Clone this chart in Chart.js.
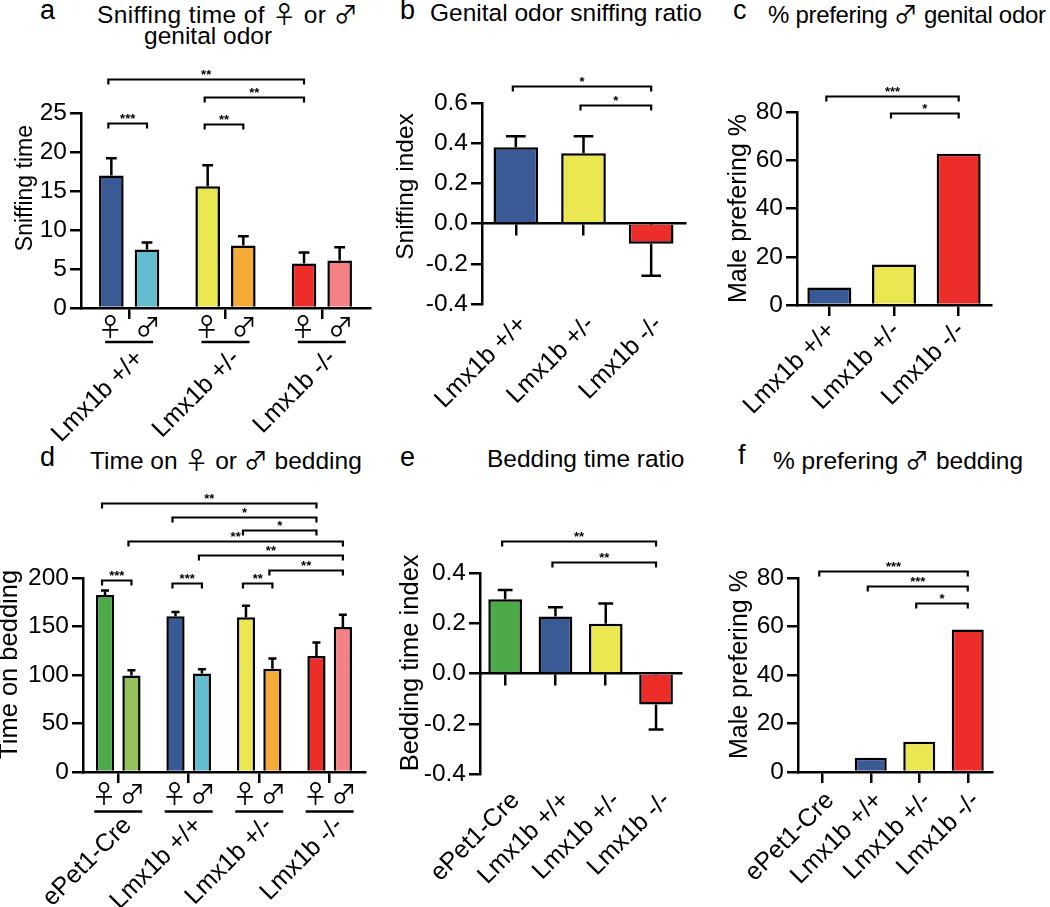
<!DOCTYPE html>
<html>
<head>
<meta charset="utf-8">
<script src="https://cdn.jsdelivr.net/npm/chart.js@4.4.1/dist/chart.umd.min.js"></script>
<style>
body{margin:0;background:#fff;width:1050px;height:907px;position:relative;overflow:hidden;font-family:"Liberation Sans",Arial,sans-serif;color:#000}
canvas{position:absolute}
.let{position:absolute;font-size:27px;line-height:27px;white-space:nowrap}
.ttl{position:absolute;font-size:24.5px;line-height:24.5px;white-space:nowrap}
.sx{font-family:"Noto Sans CJK JP","DejaVu Sans",sans-serif;font-size:24px}
</style>
</head>
<body>
<div class="let" style="left:40px;top:-3px">a</div>
<div class="ttl" style="left:97px;top:1px;letter-spacing:0.4px">Sniffing time of <span class="sx">♀</span> or <span class="sx">♂</span></div>
<div class="ttl" style="left:144px;top:24px">genital odor</div>
<div class="let" style="left:400px;top:-3px">b</div>
<div class="ttl" style="left:430px;top:1px">Genital odor sniffing ratio</div>
<div class="let" style="left:733px;top:-3px">c</div>
<div class="ttl" style="left:768px;top:1px;font-size:24px;letter-spacing:-0.3px">% prefering <span class="sx">♂</span> genital odor</div>
<div class="let" style="left:40px;top:444px">d</div>
<div class="ttl" style="left:90px;top:447px">Time on <span class="sx">♀</span> or <span class="sx">♂</span> bedding</div>
<div class="let" style="left:400px;top:444px">e</div>
<div class="ttl" style="left:487px;top:447px">Bedding time ratio</div>
<div class="let" style="left:738px;top:442px">f</div>
<div class="ttl" style="left:773px;top:447px">% prefering <span class="sx">♂</span> bedding</div>

<canvas id="ca" width="372" height="400" style="left:0;top:55px"></canvas>
<canvas id="cb" width="310" height="400" style="left:380px;top:55px"></canvas>
<canvas id="cc" width="290" height="400" style="left:710px;top:55px"></canvas>
<canvas id="cd" width="380" height="427" style="left:0;top:480px"></canvas>
<canvas id="ce" width="300" height="427" style="left:390px;top:480px"></canvas>
<canvas id="cf" width="290" height="427" style="left:715px;top:480px"></canvas>

<script>
const FONT = "'Liberation Sans', Arial, sans-serif";
const SYMFONT = "'Noto Sans CJK JP', 'DejaVu Sans', sans-serif";
const BLUE = "#3a5a96", CYAN = "#63bdcf", YEL = "#ebe752", ORG = "#f4aa36";
const RED = "#ec2d2a", PINK = "#f48185", GRN = "#4caa48", LGRN = "#95c05a";

// categories
const lmxGroups = ["Lmx1b +/+", "Lmx1b +/-", "Lmx1b -/-"];
const beddingGroups = ["ePet1-Cre", "Lmx1b +/+", "Lmx1b +/-", "Lmx1b -/-"];

// a: sniffing time (female / male odor)
const sniffFemale = [17.0, 15.6, 5.7];
const sniffFemaleErr = [2.2, 2.7, 1.4];
const sniffMale = [7.5, 8.0, 6.1];
const sniffMaleErr = [0.9, 1.2, 1.7];
// b: sniffing index
const sniffIndex = [0.38, 0.35, -0.10];
const sniffIndexErr = [0.055, 0.085, 0.16];
// c: % preferring male genital odor
const malePrefOdor = [7.3, 16.8, 62.7];
// d: time on bedding
const beddingFemale = [182.5, 160.5, 159.5, 119.5];
const beddingFemaleErr = [4.5, 4.5, 12, 14];
const beddingMale = [99.5, 101.5, 106.5, 149.5];
const beddingMaleErr = [5.5, 4.5, 10.5, 12.5];
// e: bedding time index
const beddingIndex = [0.296, 0.227, 0.198, -0.123];
const beddingIndexErr = [0.036, 0.037, 0.081, 0.10];
// f: % preferring male bedding
const malePrefBedding = [0, 5.9, 12.5, 58.8];

// significance: [datasetFrom, indexFrom, datasetTo, indexTo, y value, stars]
const sigA = [[0,0,0,2,29.4,"**"],[0,1,0,2,27.05,"**"],[0,0,1,0,23.7,"***"],[0,1,1,1,23.6,"**"]];
const sigB = [[0,0,0,2,0.685,"*"],[0,1,0,2,0.59,"*"]];
const sigC = [[0,0,0,2,86.6,"***"],[0,1,0,2,79.6,"*"]];
const sigD = [[0,0,0,3,277.6,"**"],[0,1,0,3,262.8,"*"],[0,2,0,3,249.8,"*"],
              [1,0,1,3,238,"**"],[1,1,1,3,223.4,"**"],[1,2,1,3,208.6,"**"],
              [0,0,1,0,197.6,"***"],[0,1,1,1,194.5,"***"],[0,2,1,2,194.5,"**"]];
const sigE = [[0,0,0,3,0.528,"**"],[0,1,0,3,0.442,"**"]];
const sigF = [[0,0,0,3,82.7,"***"],[0,1,0,3,76.9,"***"],[0,2,0,3,69.7,"*"]];

Chart.defaults.font.family = FONT;
Chart.defaults.color = "#000";

const annot = {
  id: "annot",
  afterDatasetsDraw(chart, args, opts) {
    const ctx = chart.ctx, ys = chart.scales.y, xs = chart.scales.x, area = chart.chartArea;
    ctx.save();
    ctx.strokeStyle = "#000";
    ctx.fillStyle = "#000";
    // error bars (away from zero only)
    chart.data.datasets.forEach((ds, di) => {
      if (!ds.errors) return;
      chart.getDatasetMeta(di).data.forEach((bar, i) => {
        const v = ds.data[i], e = ds.errors[i];
        if (!e) return;
        const s = v < 0 ? -1 : 1;
        const yEnd = ys.getPixelForValue(v + s * e);
        const cap = bar.width * 0.22;
        ctx.lineWidth = 2.5;
        ctx.beginPath();
        ctx.moveTo(bar.x, bar.y);
        ctx.lineTo(bar.x, yEnd);
        ctx.moveTo(bar.x - cap, yEnd);
        ctx.lineTo(bar.x + cap, yEnd);
        ctx.stroke();
      });
    });
    // significance brackets
    (opts.brackets || []).forEach(([d1, i1, d2, i2, val, txt]) => {
      const x1 = chart.getDatasetMeta(d1).data[i1].x - 3;
      const x2 = chart.getDatasetMeta(d2).data[i2].x;
      const yy = Math.round(ys.getPixelForValue(val)) + 0.5;
      ctx.lineWidth = 2.2;
      ctx.beginPath();
      ctx.moveTo(x1, yy + 5); ctx.lineTo(x1, yy); ctx.lineTo(x2, yy); ctx.lineTo(x2, yy + 5);
      ctx.stroke();
      ctx.font = "bold 13px " + FONT;
      ctx.textAlign = "center";
      ctx.textBaseline = "alphabetic";
      ctx.fillText(txt, (x1 + x2) / 2, yy - 1);
    });
    // female / male symbols under grouped bars
    if (opts.sexRow) {
      const {symY, lineY, half} = opts.sexRow;
      const m0 = chart.getDatasetMeta(0).data, m1 = chart.getDatasetMeta(1).data;
      ctx.font = "25px " + SYMFONT;
      ctx.textAlign = "center";
      ctx.textBaseline = "middle";
      chart.data.labels.forEach((_, j) => {
        ctx.fillText("♀", m0[j].x - 1, area.bottom + symY);
        ctx.fillText("♂", m1[j].x + 1, area.bottom + symY);
        const cx = xs.getPixelForValue(j);
        ctx.lineWidth = 2.5;
        ctx.beginPath();
        ctx.moveTo(cx - half, area.bottom + lineY);
        ctx.lineTo(cx + half, area.bottom + lineY);
        ctx.stroke();
      });
    }
    ctx.restore();
  }
};

function makeChart(id, c) {
  const axisLine = {color: "#000", width: 2.5};
  const scales = {
    x: {
      offset: true,
      border: c.zero ? {display: false} : axisLine,
      grid: {display: !c.zero, drawOnChartArea: false, drawTicks: !c.zero, tickLength: 11, lineWidth: 2.5, color: "#000", offset: false},
      ticks: {color: "#000", font: {size: 25}, minRotation: 45, maxRotation: 45, autoSkip: false, padding: c.tickPad, labelOffset: c.labelOffset},
      afterFit: s => { s.height = c.xH; }
    },
    y: {
      min: c.yMin, max: c.yMax,
      border: axisLine,
      grid: {drawOnChartArea: false, tickLength: 11, lineWidth: 2.5, color: "#000"},
      ticks: {stepSize: c.yStep, color: "#000", font: {size: 24.5}, padding: 3,
              callback: v => c.dec ? v.toFixed(1) : String(v)},
      title: {display: true, text: c.yTitle, color: "#000", font: {size: c.yTitleSize, lineHeight: 1},
              padding: {top: c.yTitlePad, bottom: 0}},
      afterFit: s => { s.width = c.yW; }
    }
  };
  if (c.zero) {
    scales.zero = {
      axis: "x", type: "category", position: {y: 0}, offset: true, z: 1,
      border: axisLine,
      grid: {drawOnChartArea: false, tickLength: 11, lineWidth: 2.5, color: "#000", offset: false},
      ticks: {display: false}
    };
  }
  return new Chart(document.getElementById(id), {
    type: "bar",
    data: {labels: c.labels, datasets: c.datasets},
    plugins: [annot],
    options: {
      responsive: false,
      animation: false,
      devicePixelRatio: 1,
      layout: {autoPadding: false, padding: {top: c.padTop, right: c.padRight, left: 0, bottom: 0}},
      plugins: {legend: {display: false}, tooltip: {enabled: false},
                annot: {brackets: c.brackets, sexRow: c.sexRow}},
      scales
    }
  });
}

function barSet(data, errors, colors, cp, bp) {
  return {data, errors, backgroundColor: colors, borderColor: "#000", borderWidth: 2.5,
          categoryPercentage: cp, barPercentage: bp};
}

// leading spaces lift the centred y titles, as in the original layout
makeChart("ca", {
  labels: lmxGroups,
  datasets: [barSet(sniffFemale, sniffFemaleErr, [BLUE, YEL, RED], 0.74, 0.69),
             barSet(sniffMale, sniffMaleErr, [CYAN, ORG, PINK], 0.74, 0.69)],
  yMin: 0, yMax: 25, yStep: 5, yTitle: "       Sniffing time", yTitleSize: 23, yTitlePad: 14,
  yW: 81, xH: 147, padTop: 58, padRight: 2, tickPad: 25, labelOffset: 10.5,
  brackets: sigA, sexRow: {symY: 18, lineY: 34, half: 24}
});

makeChart("cb", {
  labels: lmxGroups,
  datasets: [barSet(sniffIndex, sniffIndexErr, [BLUE, YEL, RED], 1, 0.66)],
  yMin: -0.4, yMax: 0.6, yStep: 0.2, dec: true, zero: true,
  yTitle: "     Sniffing index", yTitleSize: 24.5, yTitlePad: 13.5,
  yW: 102, xH: 151, padTop: 48, padRight: 5, tickPad: 6, labelOffset: 7,
  brackets: sigB
});

makeChart("cc", {
  labels: lmxGroups,
  datasets: [barSet(malePrefOdor, null, [BLUE, YEL, RED], 1, 0.68)],
  yMin: 0, yMax: 80, yStep: 20, yTitle: "Male prefering %", yTitleSize: 25, yTitlePad: 16.5,
  yW: 87, xH: 150, padTop: 57, padRight: 9, tickPad: 0, labelOffset: 2,
  brackets: sigC
});

makeChart("cd", {
  labels: beddingGroups,
  datasets: [barSet(beddingFemale, beddingFemaleErr, [GRN, BLUE, YEL, RED], 0.75, 0.69),
             barSet(beddingMale, beddingMaleErr, [LGRN, CYAN, ORG, PINK], 0.75, 0.69)],
  yMin: 0, yMax: 200, yStep: 50, yTitle: "   Time on bedding", yTitleSize: 25.5, yTitlePad: -3,
  yW: 83, xH: 135, padTop: 98, padRight: 9, tickPad: 28, labelOffset: 9.5,
  brackets: sigD, sexRow: {symY: 21, lineY: 39.5, half: 24}
});

makeChart("ce", {
  labels: beddingGroups,
  datasets: [barSet(beddingIndex, beddingIndexErr, [GRN, BLUE, YEL, RED], 1, 0.67)],
  yMin: -0.4, yMax: 0.4, yStep: 0.2, dec: true, zero: true,
  yTitle: "   Bedding time index", yTitleSize: 25.5, yTitlePad: 8,
  yW: 90, xH: 133, padTop: 93, padRight: 6, tickPad: 12, labelOffset: 10.5,
  brackets: sigE
});

makeChart("cf", {
  labels: beddingGroups,
  datasets: [barSet(malePrefBedding, null, [GRN, BLUE, YEL, RED], 1, 0.66)],
  yMin: 0, yMax: 80, yStep: 20, yTitle: "   Male prefering %", yTitleSize: 25, yTitlePad: 13,
  yW: 83, xH: 135, padTop: 98, padRight: 13, tickPad: 3, labelOffset: 8,
  brackets: sigF
});
</script>
</body>
</html>
